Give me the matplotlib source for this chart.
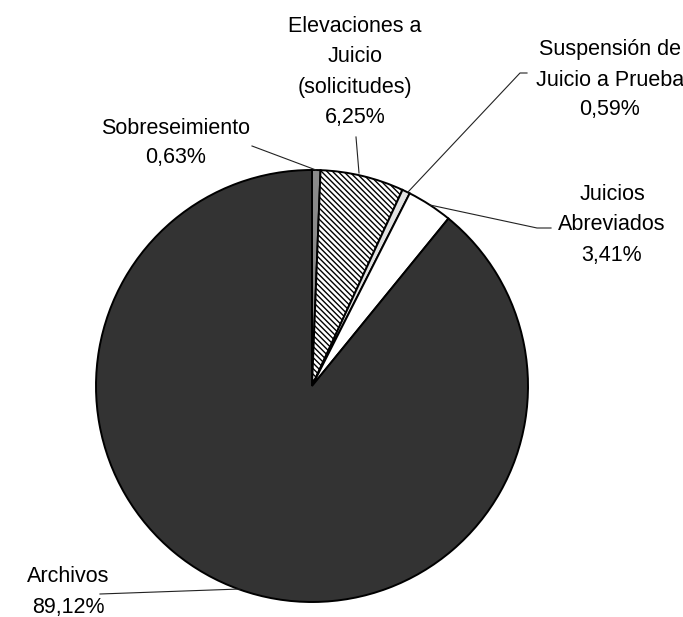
import matplotlib.pyplot as plt

# datos del gráfico (sentido horario desde las 12)
categorias = ['Sobreseimiento',
              'Elevaciones a\nJuicio\n(solicitudes)',
              'Suspensión de\nJuicio a Prueba',
              'Juicios\nAbreviados',
              'Archivos']
porcentajes = [0.63, 6.25, 0.59, 3.41, 89.12]

colores = ['#8a8a8a', 'white', '#e2e2e2', 'white', '#333333']
tramas = ['', '\\\\\\\\\\\\', '', '', '']

W, H = 683, 617
plt.rcParams['font.family'] = ['Liberation Sans', 'DejaVu Sans']
plt.rcParams['hatch.linewidth'] = 1.0


def fy(y):
    """pasa de coordenada de pixel (arriba=0) a coordenada del eje"""
    return H - y


fig = plt.figure(figsize=(W / 100, H / 100), dpi=100)
ax = fig.add_axes([0, 0, 1, 1])

centro = (312, fy(386))
radio = 216
cunas, _ = ax.pie(porcentajes, colors=colores, startangle=90, counterclock=False,
                  center=centro, radius=radio, frame=True,
                  wedgeprops=dict(edgecolor='black', linewidth=1.4))
for cuna, trama in zip(cunas, tramas):
    if trama:
        cuna.set_hatch(trama)

ax.set_xlim(0, W)
ax.set_ylim(0, H)
ax.set_aspect('equal')
ax.axis('off')

# posición de las etiquetas (centro x, y de la primera línea) y líneas guía
pos_etiquetas = [(176, 128), (355, 27), (610, 50), (612, 195), (68, 577)]
guias = [
    [(252, 146), (316, 170)],
    [(356, 137), (359, 173)],
    [(527, 73), (520, 73), (408, 192)],
    [(551, 228), (537, 228), (430, 205)],
    [(100, 594), (240, 589)],
]
paso = 30

for cat, pct, (x, y0), guia in zip(categorias, porcentajes, pos_etiquetas, guias):
    lineas = cat.split('\n') + [f"{pct:.2f}".replace('.', ',') + '%']
    for i, linea in enumerate(lineas):
        ax.text(x, fy(y0 + i * paso), linea, ha='center', va='center',
                fontsize=15.5, color='black')
    xs = [p[0] for p in guia]
    ys = [fy(p[1]) for p in guia]
    ax.plot(xs, ys, color='#222222', linewidth=0.8)

plt.savefig('out.png', dpi=100)
